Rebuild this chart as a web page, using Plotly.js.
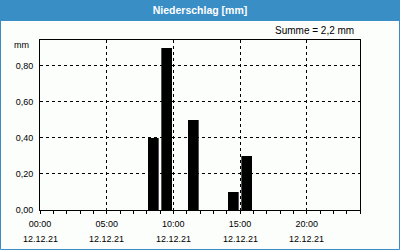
<!DOCTYPE html>
<html>
<head>
<meta charset="utf-8">
<script src="https://cdn.plot.ly/plotly-3.0.1.min.js"></script>
<style>html,body{margin:0;padding:0;background:#fcfefc;}#chart{width:400px;height:250px;}</style>
</head>
<body>
<div id="chart"></div>
<script>
// hourly precipitation (hour centre, mm)
const hours = [8.5, 9.5, 11.5, 14.5, 15.5];
const values = [0.40, 0.90, 0.50, 0.10, 0.30];
const tickHours = [0, 5, 10, 15, 20];
const tickTimes = ["00:00", "05:00", "10:00", "15:00", "20:00"];
const tickDates = ["12.12.21", "12.12.21", "12.12.21", "12.12.21", "12.12.21"];
const yTicks = [0, 0.2, 0.4, 0.6, 0.8];
const titleText = "Niederschlag [mm]";
const sumText = "Summe = 2,2 mm";
const unitText = "mm";

const blue = "#3a8ec6";
const W = 400, H = 250, L = 40, R = 40, T = 40, B = 40;
const pw = W - L - R, ph = H - T - B;
const px = x => (x - L) / pw;
const py = y => (H - B - y) / ph;
const font = "Liberation Sans, Arial, sans-serif";

const annotations = tickHours.map((h, i) => ({
  x: h, xref: "x", y: py(239), yref: "paper", text: tickDates[i],
  showarrow: false, xanchor: "center", yanchor: "middle",
  font: {family: font, size: 9, color: "#000"}
}));
annotations.push({x: px(356), xref: "paper", y: py(31), yref: "paper", text: sumText,
  showarrow: false, xanchor: "right", yanchor: "middle", font: {family: font, size: 10, color: "#000"}});
annotations.push({x: px(31), xref: "paper", y: py(45), yref: "paper", text: unitText,
  showarrow: false, xanchor: "right", yanchor: "middle", font: {family: font, size: 9, color: "#000"}});

Plotly.newPlot("chart", [{
  type: "bar", x: hours, y: values, width: 0.8,
  marker: {color: "#000", line: {width: 0}}, hoverinfo: "skip"
}], {
  width: W, height: H,
  margin: {l: L, r: R, t: T, b: B, pad: 0},
  paper_bgcolor: "#fcfefc", plot_bgcolor: "#fcfefc",
  showlegend: false,
  separators: ",.",
  title: {text: titleText, x: 0.5, xanchor: "center", y: 1 - 10.5 / H, yanchor: "middle",
    font: {family: font, size: 10.5, color: "#fff", weight: "bold"}},
  xaxis: {
    range: [0, 24], tickmode: "array", tickvals: tickHours, ticktext: tickTimes,
    showgrid: true, gridcolor: "#000", gridwidth: 1, griddash: "3px,3px",
    showline: true, mirror: true, linecolor: "#000", linewidth: 1,
    ticks: "outside", ticklen: 3, tickcolor: "#000", ticklabelstandoff: 2,
    zeroline: false, fixedrange: true,
    tickfont: {family: font, size: 9, color: "#000"},
    minor: {tickmode: "linear", tick0: 0, dtick: 1, ticks: "outside", ticklen: 3, tickcolor: "#000", showgrid: false}
  },
  yaxis: {
    range: [0, 0.944], tickmode: "array", tickvals: yTicks, tickformat: ".2f",
    showgrid: true, gridcolor: "#000", gridwidth: 1, griddash: "3px,3px",
    showline: true, mirror: true, linecolor: "#000", linewidth: 1,
    ticks: "", ticklabelstandoff: 4, zeroline: false, fixedrange: true,
    tickfont: {family: font, size: 9, color: "#000"}
  },
  shapes: [
    {type: "rect", xref: "paper", yref: "paper", layer: "below",
      x0: px(0), x1: px(400), y0: py(0), y1: py(21), fillcolor: blue, line: {width: 0}},
    {type: "rect", xref: "paper", yref: "paper", layer: "below",
      x0: px(0.5), x1: px(399.5), y0: py(0.5), y1: py(249.5), line: {color: blue, width: 1}}
  ],
  annotations: annotations
}, {staticPlot: true});
</script>
</body>
</html>
